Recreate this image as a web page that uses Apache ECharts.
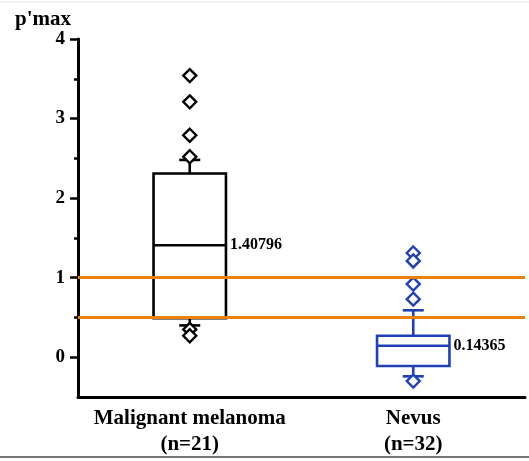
<!DOCTYPE html>
<html>
<head>
<meta charset="utf-8">
<script src="https://cdn.jsdelivr.net/npm/echarts@6/dist/echarts.min.js"></script>
<style>
  html, body { margin: 0; padding: 0; background: #fff; }
  #chart { width: 529px; height: 461px; }
</style>
</head>
<body>
<div id="chart"></div>
<script>
// Groups on the x axis
const categories = ['Malignant melanoma\n(n=21)', 'Nevus\n(n=32)'];
const groupColors = ['#000000', '#2040b8'];

// Box statistics per group: [lower whisker, Q1, median, Q3, upper whisker]
const melanomaBox = [0.40, 0.49, 1.40796, 2.31, 2.48];
const nevusBox = [-0.24, -0.11, 0.14365, 0.27, 0.59];

// Points outside the whiskers
const melanomaOutliers = [3.54, 3.21, 2.79, 2.52, 0.35, 0.27];
const nevusOutliers = [1.31, 1.21, 0.92, 0.73, -0.30];

// Cut-off reference lines
const cutoffs = [1.0, 0.5];

// Value axis ticks
const yMajorTicks = [0, 1, 2, 3, 4];
const yMinorTicks = [0.5, 1.5, 2.5, 3.5];

const serif = '"Liberation Serif", "Times New Roman", serif';

const boxes = [melanomaBox, nevusBox];
const boxData = boxes.map((b, i) => [i, ...b]);

function renderBox(params, api) {
  const idx = api.value(0);
  const color = groupColors[idx];
  const low = api.coord([idx, api.value(1)]);
  const q1 = api.coord([idx, api.value(2)]);
  const med = api.coord([idx, api.value(3)]);
  const q3 = api.coord([idx, api.value(4)]);
  const high = api.coord([idx, api.value(5)]);
  const band = api.size([1, 0])[0];
  const half = band * 0.162;
  const cap = 10.5;
  const x = med[0];
  const style = { stroke: color, lineWidth: 2.6, fill: null };
  const medianValue = api.value(3);
  return {
    type: 'group',
    children: [
      { type: 'line', shape: { x1: x, y1: q3[1], x2: x, y2: high[1] }, style },
      { type: 'line', shape: { x1: x, y1: q1[1], x2: x, y2: low[1] }, style },
      { type: 'line', shape: { x1: x - cap, y1: high[1], x2: x + cap, y2: high[1] }, style },
      { type: 'line', shape: { x1: x - cap, y1: low[1], x2: x + cap, y2: low[1] }, style },
      { type: 'rect', shape: { x: x - half, y: q3[1], width: half * 2, height: q1[1] - q3[1] }, style: { stroke: color, lineWidth: 2.6, fill: '#fff' } },
      { type: 'line', shape: { x1: x - half, y1: med[1], x2: x + half, y2: med[1] }, style },
      {
        type: 'text',
        style: {
          x: x + half + 4, y: med[1],
          text: String(medianValue),
          fill: '#000',
          font: 'bold 16px ' + serif,
          verticalAlign: 'middle', align: 'left'
        }
      }
    ]
  };
}

const chart = echarts.init(document.getElementById('chart'), null, { renderer: 'canvas' });

chart.setOption({
  animation: false,
  backgroundColor: '#fff',
  grid: { left: 78, right: 4, top: 39, bottom: 64 },
  title: {
    text: "p'max",
    left: 10, top: 4,
    textStyle: { fontFamily: serif, fontWeight: 'bold', fontSize: 21, color: '#000' }
  },
  xAxis: {
    type: 'category',
    data: categories,
    boundaryGap: true,
    axisLine: { onZero: false, lineStyle: { color: '#000', width: 3 } },
    axisTick: { alignWithLabel: true, length: 7, lineStyle: { color: '#000', width: 2.5 } },
    axisLabel: {
      color: '#000', fontFamily: serif, fontWeight: 'bold', fontSize: 21,
      lineHeight: 26, margin: 9, interval: 0
    },
    splitLine: { show: false }
  },
  yAxis: [
    {
      type: 'value', min: -0.5, max: 4,
      axisLine: { show: true, onZero: false, lineStyle: { color: '#000', width: 3 } },
      axisTick: { show: true, length: 8, customValues: yMajorTicks, lineStyle: { color: '#000', width: 2.5 } },
      axisLabel: {
        customValues: yMajorTicks, margin: 13,
        color: '#000', fontFamily: serif, fontWeight: 'bold', fontSize: 19
      },
      splitLine: { show: false }
    },
    {
      type: 'value', min: -0.5, max: 4, position: 'left',
      axisLine: { show: false, onZero: false },
      axisTick: { show: true, length: 4, customValues: yMinorTicks, lineStyle: { color: '#000', width: 2.5 } },
      axisLabel: { show: false },
      splitLine: { show: false }
    }
  ],
  series: [
    {
      type: 'custom',
      renderItem: renderBox,
      data: boxData,
      encode: { x: 0, y: [1, 2, 3, 4, 5] },
      z: 2
    },
    {
      type: 'scatter',
      data: melanomaOutliers.map(v => [0, v]),
      symbol: 'diamond', symbolSize: 13,
      itemStyle: { color: '#fff', borderColor: groupColors[0], borderWidth: 2.4, opacity: 1 },
      z: 3
    },
    {
      type: 'scatter',
      data: nevusOutliers.map(v => [1, v]),
      symbol: 'diamond', symbolSize: 13,
      itemStyle: { color: '#fff', borderColor: groupColors[1], borderWidth: 2.4, opacity: 1 },
      z: 3
    },
    {
      type: 'line',
      data: [],
      silent: true,
      z: 4,
      markLine: {
        silent: true,
        symbol: 'none',
        label: { show: false },
        lineStyle: { color: '#e8820c', width: 3, type: 'solid' },
        data: cutoffs.map(v => ({ yAxis: v }))
      }
    }
  ],
  graphic: [
    { type: 'line', shape: { x1: 0, y1: 2, x2: 529, y2: 2 }, style: { stroke: '#e4e4e4', lineWidth: 1 } },
    { type: 'line', shape: { x1: 0, y1: 457, x2: 529, y2: 457 }, style: { stroke: '#777', lineWidth: 2 } }
  ]
});
</script>
</body>
</html>
